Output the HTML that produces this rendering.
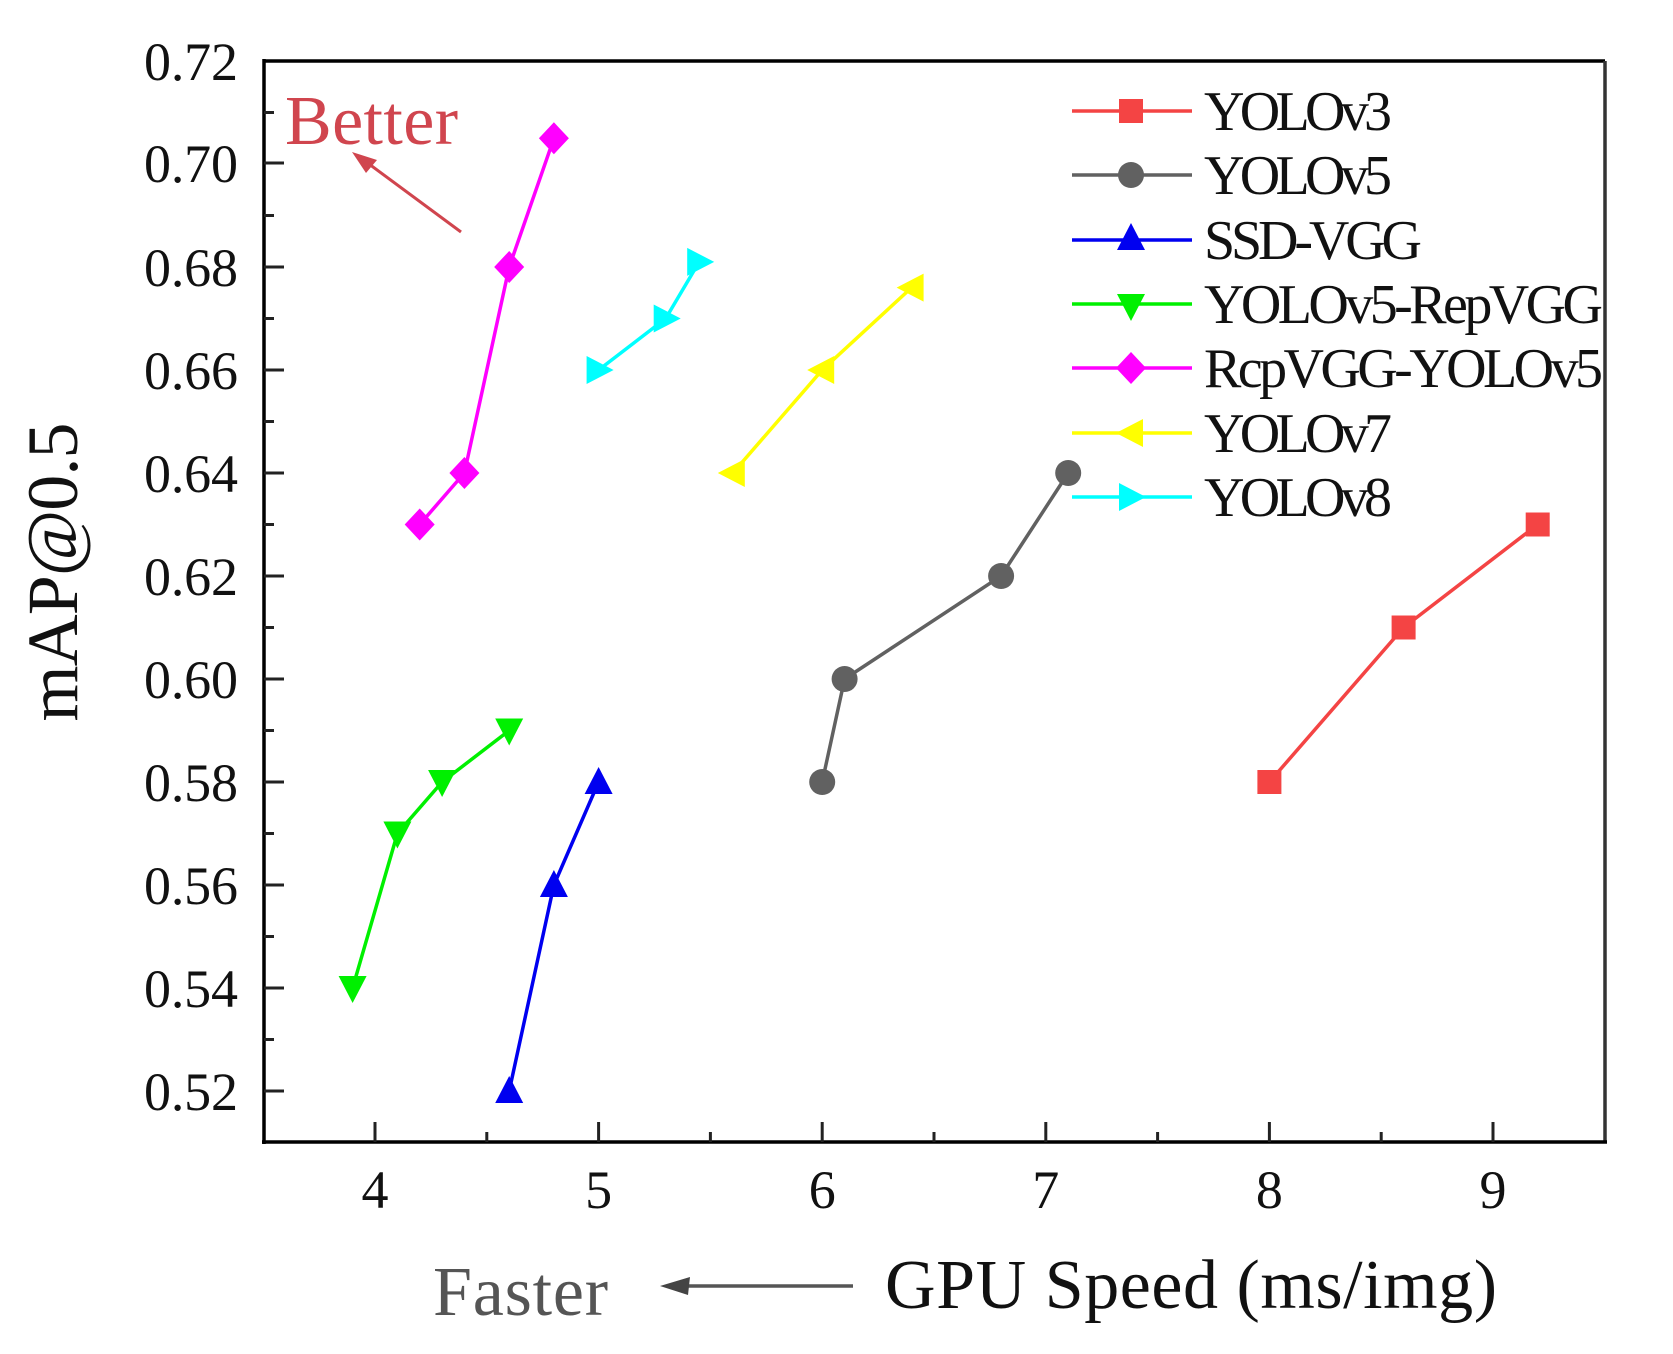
<!DOCTYPE html>
<html><head><meta charset="utf-8"><style>
html,body{margin:0;padding:0;background:#fff;}
svg{display:block;}
text{font-family:"Liberation Serif",serif;}
</style></head><body>
<svg width="1673" height="1354" viewBox="0 0 1673 1354" xmlns="http://www.w3.org/2000/svg">
<defs>
<rect id="sq" x="-12" y="-12" width="24" height="24"/>
<circle id="ci" r="13"/>
<polygon id="tu" points="0,-15 14,12 -14,12"/>
<polygon id="td" points="0,15 14,-12 -14,-12"/>
<polygon id="dm" points="0,-16 15,0 0,16 -15,0"/>
<polygon id="tl" points="-15,0 12,-14 12,14"/>
<polygon id="tr" points="15,0 -12,-14 -12,14"/>
</defs>
<rect width="1673" height="1354" fill="#fff"/>
<line x1="263" y1="61" x2="1605" y2="61" stroke="#000" stroke-width="3.5"/>
<line x1="1605" y1="61" x2="1605" y2="1143" stroke="#333" stroke-width="3.5"/>
<line x1="264" y1="59" x2="264" y2="1144" stroke="#000" stroke-width="3.5"/>
<line x1="262" y1="1142" x2="1607" y2="1142" stroke="#000" stroke-width="3.5"/>
<g stroke="#222" stroke-width="3">
<line x1="264" y1="163" x2="284" y2="163"/><line x1="264" y1="267" x2="284" y2="267"/>
<line x1="264" y1="370" x2="284" y2="370"/><line x1="264" y1="473" x2="284" y2="473"/>
<line x1="264" y1="576" x2="284" y2="576"/><line x1="264" y1="679" x2="284" y2="679"/>
<line x1="264" y1="782" x2="284" y2="782"/><line x1="264" y1="885" x2="284" y2="885"/>
<line x1="264" y1="988" x2="284" y2="988"/><line x1="264" y1="1091" x2="284" y2="1091"/>
<line x1="264" y1="112.5" x2="274" y2="112.5"/><line x1="264" y1="215.5" x2="274" y2="215.5"/>
<line x1="264" y1="318.5" x2="274" y2="318.5"/><line x1="264" y1="421.5" x2="274" y2="421.5"/>
<line x1="264" y1="524.5" x2="274" y2="524.5"/><line x1="264" y1="627.5" x2="274" y2="627.5"/>
<line x1="264" y1="730.5" x2="274" y2="730.5"/><line x1="264" y1="833.5" x2="274" y2="833.5"/>
<line x1="264" y1="936.5" x2="274" y2="936.5"/><line x1="264" y1="1039.5" x2="274" y2="1039.5"/>
<line x1="375" y1="1142" x2="375" y2="1122"/><line x1="598.6" y1="1142" x2="598.6" y2="1122"/>
<line x1="822.2" y1="1142" x2="822.2" y2="1122"/><line x1="1045.8" y1="1142" x2="1045.8" y2="1122"/>
<line x1="1269.4" y1="1142" x2="1269.4" y2="1122"/><line x1="1493" y1="1142" x2="1493" y2="1122"/>
<line x1="486.8" y1="1142" x2="486.8" y2="1132"/><line x1="710.4" y1="1142" x2="710.4" y2="1132"/>
<line x1="934" y1="1142" x2="934" y2="1132"/><line x1="1157.6" y1="1142" x2="1157.6" y2="1132"/>
<line x1="1381.2" y1="1142" x2="1381.2" y2="1132"/>
</g>
<g font-size="54" text-anchor="end" fill="#111">
<text x="238" y="80" textLength="94">0.72</text>
<text x="238" y="182" textLength="94">0.70</text>
<text x="238" y="286" textLength="94">0.68</text>
<text x="238" y="389" textLength="94">0.66</text>
<text x="238" y="492" textLength="94">0.64</text>
<text x="238" y="595" textLength="94">0.62</text>
<text x="238" y="698" textLength="94">0.60</text>
<text x="238" y="801" textLength="94">0.58</text>
<text x="238" y="904" textLength="94">0.56</text>
<text x="238" y="1007" textLength="94">0.54</text>
<text x="238" y="1110" textLength="94">0.52</text>
</g>
<g font-size="54" text-anchor="middle" fill="#111">
<text x="375" y="1208">4</text><text x="598.6" y="1208">5</text>
<text x="822.2" y="1208">6</text><text x="1045.8" y="1208">7</text>
<text x="1269.4" y="1208">8</text><text x="1493" y="1208">9</text>
</g>
<text x="77" y="572" font-size="72" text-anchor="middle" transform="rotate(-90 77 572)" textLength="299" fill="#111">mAP@0.5</text>
<text x="433" y="1315" font-size="70" fill="#555" textLength="175">Faster</text>
<line x1="853" y1="1286" x2="680" y2="1286" stroke="#555" stroke-width="3.5"/>
<polygon points="660,1286 690,1277 688,1295" fill="#444"/>
<text x="885" y="1308" font-size="70" fill="#111" textLength="612">GPU Speed (ms/img)</text>
<text x="285" y="144" font-size="70" fill="#d0454e" textLength="173">Better</text>
<line x1="461" y1="232" x2="365" y2="161" stroke="#d0454e" stroke-width="3"/>
<polygon points="352,152 377,160 366,173" fill="#d0454e"/>
<g fill="none" stroke-width="3.5">
<polyline stroke="#f44444" points="1269.4,782 1403.6,627.5 1537.7,524.5"/>
<polyline stroke="#616161" points="822.2,782 844.6,679 1001.1,576 1068.2,473"/>
<polyline stroke="#0000f0" points="509.2,1091 553.9,885 598.6,782"/>
<polyline stroke="#00f000" points="352.6,988 397.4,833.5 442.1,782 509.2,730.5"/>
<polyline stroke="#ff00ff" points="419.7,524.5 464.4,473 509.2,267 553.9,138.3"/>
<polyline stroke="#ffff00" points="732.8,473 822.2,370 911.6,287.6"/>
<polyline stroke="#00ffff" points="598.6,370 665.7,318.5 699.2,261.9"/>
</g>
<g fill="#f44444"><use href="#sq" x="1269.4" y="782"/><use href="#sq" x="1403.6" y="627.5"/><use href="#sq" x="1537.7" y="524.5"/></g>
<g fill="#616161"><use href="#ci" x="822.2" y="782"/><use href="#ci" x="844.6" y="679"/><use href="#ci" x="1001.1" y="576"/><use href="#ci" x="1068.2" y="473"/></g>
<g fill="#0000f0"><use href="#tu" x="509.2" y="1091"/><use href="#tu" x="553.9" y="885"/><use href="#tu" x="598.6" y="782"/></g>
<g fill="#00f000"><use href="#td" x="352.6" y="988"/><use href="#td" x="397.4" y="833.5"/><use href="#td" x="442.1" y="782"/><use href="#td" x="509.2" y="730.5"/></g>
<g fill="#ff00ff"><use href="#dm" x="419.7" y="524.5"/><use href="#dm" x="464.4" y="473"/><use href="#dm" x="509.2" y="267"/><use href="#dm" x="553.9" y="138.3"/></g>
<g fill="#ffff00"><use href="#tl" x="732.8" y="473"/><use href="#tl" x="822.2" y="370"/><use href="#tl" x="911.6" y="287.6"/></g>
<g fill="#00ffff"><use href="#tr" x="598.6" y="370"/><use href="#tr" x="665.7" y="318.5"/><use href="#tr" x="699.2" y="261.9"/></g>
<g stroke-width="3.5">
<line x1="1072" y1="111" x2="1192" y2="111" stroke="#f44444"/>
<line x1="1072" y1="175" x2="1192" y2="175" stroke="#616161"/>
<line x1="1072" y1="240" x2="1192" y2="240" stroke="#0000f0"/>
<line x1="1072" y1="304" x2="1192" y2="304" stroke="#00f000"/>
<line x1="1072" y1="368" x2="1192" y2="368" stroke="#ff00ff"/>
<line x1="1072" y1="433" x2="1192" y2="433" stroke="#ffff00"/>
<line x1="1072" y1="497" x2="1192" y2="497" stroke="#00ffff"/>
</g>
<use href="#sq" x="1131" y="111" fill="#f44444"/>
<use href="#ci" x="1131" y="175" fill="#616161"/>
<use href="#tu" x="1131" y="238" fill="#0000f0"/>
<use href="#td" x="1131" y="306" fill="#00f000"/>
<use href="#dm" x="1131" y="368" fill="#ff00ff"/>
<use href="#tl" x="1131" y="433" fill="#ffff00"/>
<use href="#tr" x="1131" y="497" fill="#00ffff"/>
<g font-size="56" fill="#111">
<text x="1204" y="130" textLength="188">YOLOv3</text>
<text x="1204" y="194" textLength="188">YOLOv5</text>
<text x="1204" y="259" textLength="218">SSD-VGG</text>
<text x="1204" y="323" textLength="399">YOLOv5-RepVGG</text>
<text x="1204" y="387" textLength="399">RcpVGG-YOLOv5</text>
<text x="1204" y="452" textLength="188">YOLOv7</text>
<text x="1204" y="516" textLength="188">YOLOv8</text>
</g>
</svg>
</body></html>
